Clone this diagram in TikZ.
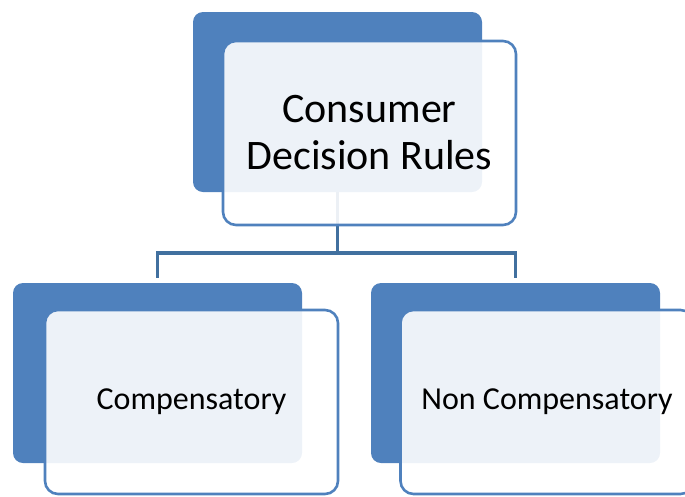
\documentclass[tikz,border=0pt]{standalone}
\usepackage{fontspec}
\setmainfont{Carlito}
\usetikzlibrary{positioning}

\definecolor{rulesblue}{HTML}{4F81BD}
\definecolor{linkblue}{HTML}{41709F}

\tikzset{
  backbox/.style={rectangle, rounded corners=10pt, fill=rulesblue, minimum width=289pt, minimum height=180pt, inner sep=0pt},
  frontbox/.style={rectangle, rounded corners=13pt, draw=rulesblue, line width=2.6pt, fill=white, fill opacity=0.9, text opacity=1, minimum width=293pt, minimum height=184pt, inner sep=0pt, align=center},
  link/.style={draw=linkblue, line width=3.5pt}
}

\begin{document}
\begin{tikzpicture}[x=1pt,y=-1pt]

\clip (0,0) rectangle (685,496);

%Back boxes
\node[backbox] (rules) at (337.5,102) {};
\node[backbox] (comp) at (157.5,373) {};
\node[backbox] (noncomp) at (515.5,373) {};

%Connectors
\coordinate (split) at (337.5,253);
\draw[link] (rules.south) -- (split);
\draw[link, shorten >=5pt] (split) -| (comp.north);
\draw[link, shorten >=5pt] (split) -| (noncomp.north);

%Front boxes
\node[frontbox, font=\fontsize{42}{47}\selectfont] (rulesText) at (369.5,133) {Consumer\\Decision Rules};
\node[frontbox, font=\fontsize{32}{38}\selectfont] (compText) at (191.5,402) {Compensatory};
\node[frontbox, font=\fontsize{32}{38}\selectfont] (noncompText) at (547,402) {Non Compensatory};

\end{tikzpicture}
\end{document}
